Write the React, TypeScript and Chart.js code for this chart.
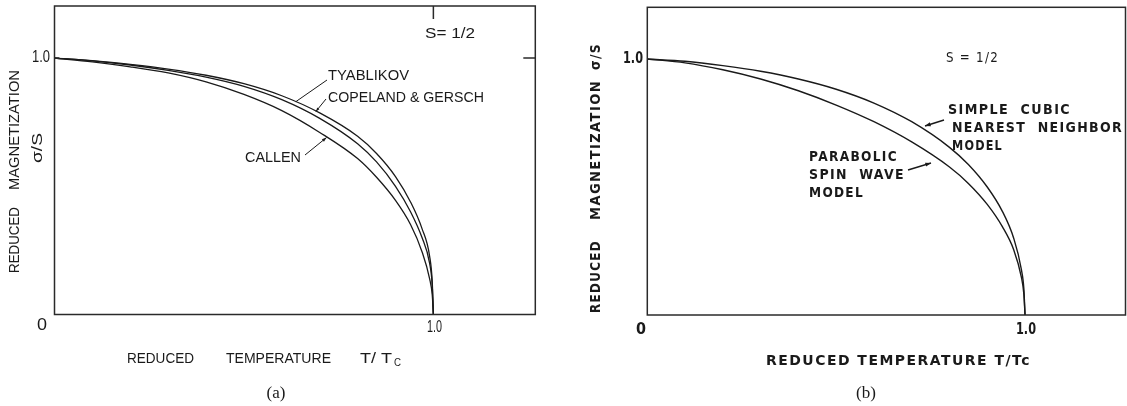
import React, { useEffect, useRef } from "react";
import { Chart, registerables } from "chart.js";

Chart.register(...registerables);

// ---------- data (a) ----------
const tempA = [0, 0.1, 0.2, 0.3, 0.4, 0.5, 0.6, 0.7, 0.8, 0.85, 0.9, 0.94, 0.97, 0.99, 0.997, 1.0];
const tyablikov = [1.0, 0.99, 0.975, 0.957, 0.933, 0.9, 0.853, 0.786, 0.695, 0.628, 0.538, 0.438, 0.335, 0.228, 0.127, 0];
const copeland = [1.0, 0.989, 0.973, 0.952, 0.926, 0.89, 0.838, 0.765, 0.666, 0.595, 0.5, 0.4, 0.3, 0.2, 0.112, 0];
const callen = [1.0, 0.985, 0.966, 0.942, 0.907, 0.858, 0.795, 0.71, 0.608, 0.535, 0.445, 0.35, 0.245, 0.14, 0.076, 0];

// ---------- data (b) ----------
const tempB = [0, 0.1, 0.2, 0.3, 0.4, 0.5, 0.6, 0.7, 0.8, 0.85, 0.9, 0.94, 0.97, 0.99, 0.997, 1.0];
const simpleCubic = [1.0, 0.991, 0.974, 0.952, 0.922, 0.882, 0.828, 0.755, 0.655, 0.588, 0.5, 0.405, 0.3, 0.18, 0.1, 0];
const parabolic = [1.0, 0.985, 0.958, 0.922, 0.876, 0.82, 0.755, 0.676, 0.578, 0.514, 0.432, 0.345, 0.255, 0.15, 0.08, 0];

const xTickLabels = ["0", "1.0"];
const yTickLabels = ["0", "1.0"];

const pts = (xs: number[], ys: number[]) => xs.map((x, i) => ({ x, y: ys[i] }));

const INK = "#1a1a1a";

function arrow(ctx: CanvasRenderingContext2D, x1: number, y1: number, x2: number, y2: number, head: number) {
  ctx.beginPath();
  ctx.moveTo(x1, y1);
  ctx.lineTo(x2, y2);
  ctx.stroke();
  if (head > 0) {
    const a = Math.atan2(y2 - y1, x2 - x1);
    ctx.beginPath();
    ctx.moveTo(x2, y2);
    ctx.lineTo(x2 - head * Math.cos(a - 0.35), y2 - head * Math.sin(a - 0.35));
    ctx.lineTo(x2 - head * Math.cos(a + 0.35), y2 - head * Math.sin(a + 0.35));
    ctx.closePath();
    ctx.fill();
  }
}

// draw text horizontally from x1 to x2 (scaled to fit), vertically centred on y
function fitText(ctx: CanvasRenderingContext2D, s: string, x1: number, x2: number, y: number) {
  const m = ctx.measureText(s).width;
  ctx.save();
  ctx.translate(x1, y);
  ctx.scale((x2 - x1) / m, 1);
  ctx.textAlign = "left";
  ctx.textBaseline = "middle";
  ctx.fillText(s, 0, 0);
  ctx.restore();
}

// rotated text running upward from yBottom to yTop, centred on x
function fitRot(ctx: CanvasRenderingContext2D, s: string, x: number, yBottom: number, yTop: number) {
  const m = ctx.measureText(s).width;
  ctx.save();
  ctx.translate(x, yBottom);
  ctx.rotate(-Math.PI / 2);
  ctx.scale((yBottom - yTop) / m, 1);
  ctx.textAlign = "left";
  ctx.textBaseline = "middle";
  ctx.fillText(s, 0, 0);
  ctx.restore();
}

const decorA = {
  id: "decorA",
  afterDraw(chart: any) {
    const ctx: CanvasRenderingContext2D = chart.ctx;
    const { left, right, top, bottom } = chart.chartArea;
    const xs = chart.scales.x;
    const ys = chart.scales.y;
    const px = (v: number) => xs.getPixelForValue(v);
    const py = (v: number) => ys.getPixelForValue(v);
    ctx.save();
    ctx.strokeStyle = "#2a2a2a";
    ctx.lineWidth = 1.5;
    ctx.strokeRect(left, top, right - left, bottom - top);
    ctx.beginPath();
    ctx.moveTo(px(1), top);
    ctx.lineTo(px(1), top + 13);
    ctx.moveTo(right, py(1));
    ctx.lineTo(right - 12, py(1));
    ctx.moveTo(left, py(1));
    ctx.lineTo(left + 5, py(1));
    ctx.stroke();

    ctx.fillStyle = INK;
    ctx.font = "16px 'Liberation Sans', Arial, sans-serif";
    fitText(ctx, yTickLabels[1], 32, 50, py(1));
    fitText(ctx, xTickLabels[0], 37, 47, 326);
    fitText(ctx, xTickLabels[1], 427, 442, 328);

    ctx.font = "14.5px 'Liberation Sans', Arial, sans-serif";
    fitText(ctx, "REDUCED", 127, 194, 359);
    fitText(ctx, "TEMPERATURE", 226, 331, 359);
    fitText(ctx, "T/ T", 360, 392, 359);
    ctx.font = "10px 'Liberation Sans', Arial, sans-serif";
    fitText(ctx, "C", 394, 401, 363);

    ctx.font = "14.5px 'Liberation Sans', Arial, sans-serif";
    fitRot(ctx, "MAGNETIZATION", 15, 190, 70);
    fitRot(ctx, "REDUCED", 15, 273, 207);
    fitRot(ctx, "\u03C3/S", 38, 163, 133);

    fitText(ctx, "S= 1/2", 425, 475, 34);
    fitText(ctx, "TYABLIKOV", 328, 409, 76);
    fitText(ctx, "COPELAND & GERSCH", 328, 484, 98);
    fitText(ctx, "CALLEN", 245, 301, 158);

    ctx.lineWidth = 1;
    ctx.strokeStyle = INK;
    arrow(ctx, 327, 80, px(0.637), py(0.83), 0);
    arrow(ctx, 326, 99, px(0.69), py(0.792), 4);
    arrow(ctx, 305, 155, px(0.718), py(0.69), 5);

    ctx.font = "17px 'Liberation Serif', 'DejaVu Serif', serif";
    ctx.textAlign = "center";
    ctx.textBaseline = "middle";
    ctx.fillText("(a)", 276, 394);
    ctx.restore();
  },
};

const decorB = {
  id: "decorB",
  afterDraw(chart: any) {
    const ctx: CanvasRenderingContext2D = chart.ctx;
    const { left, right, top, bottom } = chart.chartArea;
    const xs = chart.scales.x;
    const ys = chart.scales.y;
    const px = (v: number) => xs.getPixelForValue(v);
    const py = (v: number) => ys.getPixelForValue(v);
    const o = 563;
    ctx.save();
    ctx.strokeStyle = "#2a2a2a";
    ctx.lineWidth = 1.5;
    ctx.strokeRect(left, top, right - left, bottom - top);

    ctx.fillStyle = INK;
    ctx.font = "bold 15px 'DejaVu Sans', sans-serif";
    fitText(ctx, yTickLabels[1], 623 - o, 643 - o, py(1));
    fitText(ctx, xTickLabels[0], 636 - o, 646 - o, 330);
    fitText(ctx, xTickLabels[1], 1016 - o, 1036 - o, 330);

    ctx.font = "bold 14px 'DejaVu Sans', sans-serif";
    (ctx as any).letterSpacing = "1.5px";
    fitText(ctx, "REDUCED TEMPERATURE T/Tc", 766 - o, 1031 - o, 361);
    fitRot(ctx, "REDUCED", 596 - o, 313, 240);
    fitRot(ctx, "MAGNETIZATION", 596 - o, 220, 80);
    fitRot(ctx, "\u03C3/S", 596 - o, 70, 43);

    fitText(ctx, "SIMPLE  CUBIC", 948 - o, 1071 - o, 110);
    fitText(ctx, "NEAREST  NEIGHBOR", 952 - o, 1123 - o, 128);
    fitText(ctx, "MODEL", 952 - o, 1003 - o, 146);
    fitText(ctx, "PARABOLIC", 809 - o, 898 - o, 157);
    fitText(ctx, "SPIN  WAVE", 809 - o, 905 - o, 175);
    fitText(ctx, "MODEL", 809 - o, 864 - o, 193);
    ctx.font = "14px 'DejaVu Sans', sans-serif";
    fitText(ctx, "S = 1/2", 946 - o, 999 - o, 58);
    (ctx as any).letterSpacing = "0px";

    ctx.lineWidth = 1.4;
    ctx.strokeStyle = INK;
    arrow(ctx, 944 - o, 120, 925 - o, 126, 6);
    arrow(ctx, 908 - o, 170, 931 - o, 163, 6);

    ctx.font = "17px 'Liberation Serif', 'DejaVu Serif', serif";
    ctx.textAlign = "center";
    ctx.textBaseline = "middle";
    ctx.fillText("(b)", 866 - o, 394);
    ctx.restore();
  },
};

function makeOptions(xMax: number, yMax: number, padding: any) {
  return {
    responsive: false,
    animation: false as const,
    layout: { padding },
    plugins: { legend: { display: false }, tooltip: { enabled: false } },
    elements: { point: { radius: 0 } },
    scales: {
      x: { type: "linear" as const, min: 0, max: xMax, display: false },
      y: { type: "linear" as const, min: 0, max: yMax, display: false },
    },
  };
}

const line = (data: any, w = 1.3) => ({
  data,
  borderColor: INK,
  borderWidth: w,
  pointRadius: 0,
  fill: false,
  cubicInterpolationMode: "monotone" as const,
});

export default function App() {
  const refA = useRef<HTMLCanvasElement>(null);
  const refB = useRef<HTMLCanvasElement>(null);
  useEffect(() => {
    const a = new Chart(refA.current!, {
      type: "line",
      data: {
        datasets: [
          { label: "TYABLIKOV", ...line(pts(tempA, tyablikov)) },
          { label: "COPELAND & GERSCH", ...line(pts(tempA, copeland)) },
          { label: "CALLEN", ...line(pts(tempA, callen)) },
        ],
      },
      options: makeOptions(1.269, 1.203, { left: 54.5, top: 6, right: 27.7, bottom: 91.5 }) as any,
      plugins: [decorA],
    });
    const b = new Chart(refB.current!, {
      type: "line",
      data: {
        datasets: [
          { label: "SIMPLE CUBIC NEAREST NEIGHBOR MODEL", ...line(pts(tempB, simpleCubic), 1.4) },
          { label: "PARABOLIC SPIN WAVE MODEL", ...line(pts(tempB, parabolic), 1.4) },
        ],
      },
      options: makeOptions(1.266, 1.202, { left: 84.3, top: 7.3, right: 1.5, bottom: 91 }) as any,
      plugins: [decorB],
    });
    return () => {
      a.destroy();
      b.destroy();
    };
  }, []);
  return (
    <div style={{ position: "absolute", left: 0, top: 0, width: 1127, height: 406, background: "#fff" }}>
      <canvas ref={refA} width={563} height={406} style={{ position: "absolute", left: 0, top: 0, width: 563, height: 406 }} />
      <canvas ref={refB} width={564} height={406} style={{ position: "absolute", left: 563, top: 0, width: 564, height: 406 }} />
    </div>
  );
}
